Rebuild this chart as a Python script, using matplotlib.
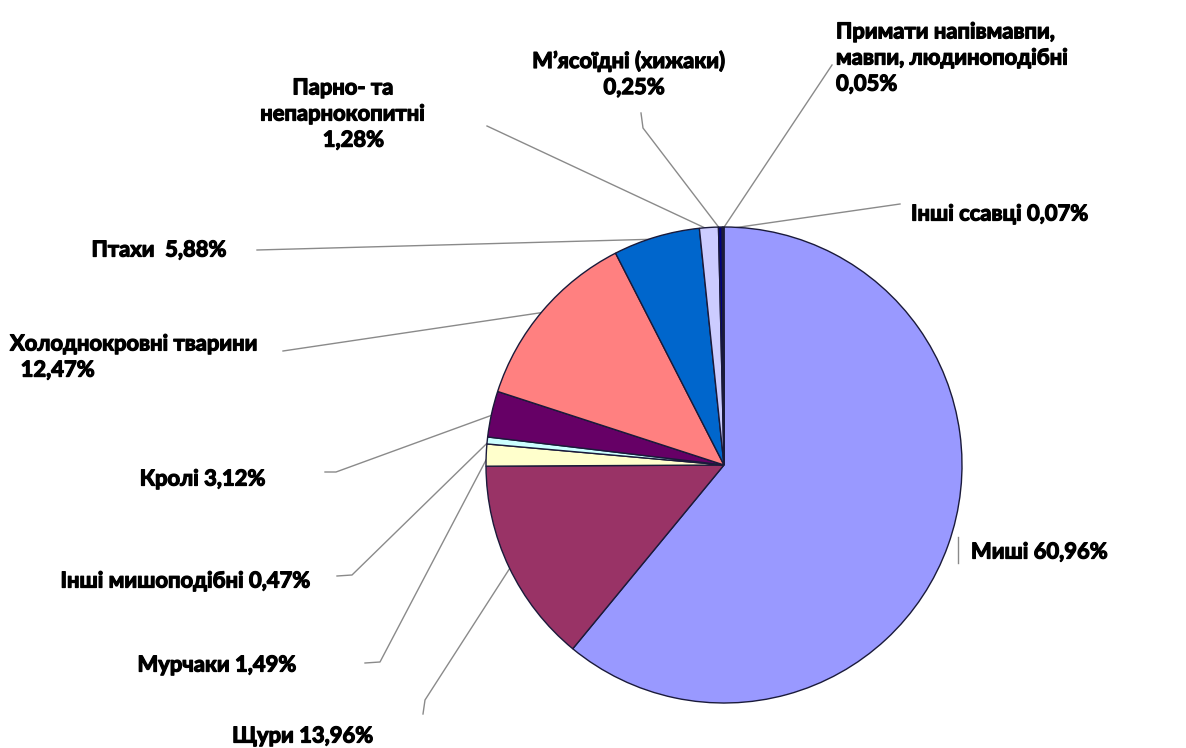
import numpy as np
import matplotlib
matplotlib.use("Agg")
import matplotlib.pyplot as plt
import matplotlib.patheffects as pe

# --- data ---
names = ["Миші", "Щури", "Мурчаки", "Інші мишоподібні", "Кролі",
         "Холоднокровні тварини", "Птахи", "Парно- та непарнокопитні",
         "М’ясоїдні (хижаки)", "Примати напівмавпи, мавпи, людиноподібні",
         "Інші ссавці"]
shares = [60.96, 13.96, 1.49, 0.47, 3.12, 12.47, 5.88, 1.28, 0.25, 0.05, 0.07]
colors = ["#9999FF", "#993366", "#FFFFCC", "#CCFFFF", "#660066", "#FF8080",
          "#0066CC", "#CCCCFF", "#000080", "#FF00FF", "#FFFF00"]

# label texts as shown on the chart
label_texts = [
    "Миші 60,96%",
    "Щури 13,96%",
    "Мурчаки 1,49%",
    "Інші мишоподібні 0,47%",
    "Кролі 3,12%",
    "Холоднокровні тварини\n  12,47%",
    "Птахи  5,88%",
    "Парно- та\nнепарнокопитні\n    1,28%",
    "М’ясоїдні (хижаки)\n  0,25%",
    "Примати напівмавпи,\nмавпи, людиноподібні\n0,05%",
    "Інші ссавці 0,07%",
]

# --- layout (pixel coords, y downward) ---
W, H = 1186, 748
CX, CY, R = 724, 465, 238

# text anchor, alignment, leader elbow points
layout = [
    ((971, 552), "left", "center", [(958, 537), (958, 563)]),
    ((303, 736), "center", "center", [(425, 700), (423, 714)]),
    ((297, 665), "right", "center", [(380, 662), (365, 663)]),
    ((311, 581), "right", "center", [(352, 575), (337, 576)]),
    ((266, 479), "right", "center", [(336, 472), (325, 472)]),
    ((10, 357), "left", "center", [(283, 351)]),
    ((227, 250), "right", "center", [(257, 250)]),
    ((343, 114), "center", "center", [(487, 126)]),
    ((629, 74), "center", "center", [(643, 128), (641, 113)]),
    ((836, 58), "left", "center", [(832, 65)]),
    ((911, 214), "left", "center", [(900, 204)]),
]

plt.rcParams['font.family'] = ['Lato', 'DejaVu Sans']

fig = plt.figure(figsize=(W / 100, H / 100), dpi=100)
ax = fig.add_axes([0, 0, 1, 1])

wedges, _ = ax.pie(shares, colors=colors, startangle=90, counterclock=False,
                   center=(CX, H - CY), radius=R, frame=True,
                   wedgeprops=dict(edgecolor="#1a1a3a", linewidth=1.0))
ax.set_xlim(0, W)
ax.set_ylim(0, H)
ax.set_aspect("equal")
ax.axis("off")

thick = [pe.withStroke(linewidth=0.9, foreground="black")]

for i, (w, txt) in enumerate(zip(wedges, label_texts)):
    (tx, ty), ha, va, elbows = layout[i]
    if i == 0:
        pts = elbows
    else:
        mid = np.deg2rad((w.theta1 + w.theta2) / 2)
        sx = CX + R * 0.99 * np.cos(mid)
        sy = CY - R * 0.99 * np.sin(mid)
        pts = [(sx, sy)] + elbows
    xs = [p[0] for p in pts]
    ys = [H - p[1] for p in pts]
    ax.plot(xs, ys, color="#8a8a8a", lw=1.0, zorder=0.5)
    ax.text(tx, H - ty, txt, ha=ha, va=va, fontsize=15.8, fontweight="bold",
            multialignment="left" if ha != "center" else "center",
            linespacing=1.3, color="black", path_effects=thick)

fig.savefig("out.png", dpi=100, facecolor="white")
